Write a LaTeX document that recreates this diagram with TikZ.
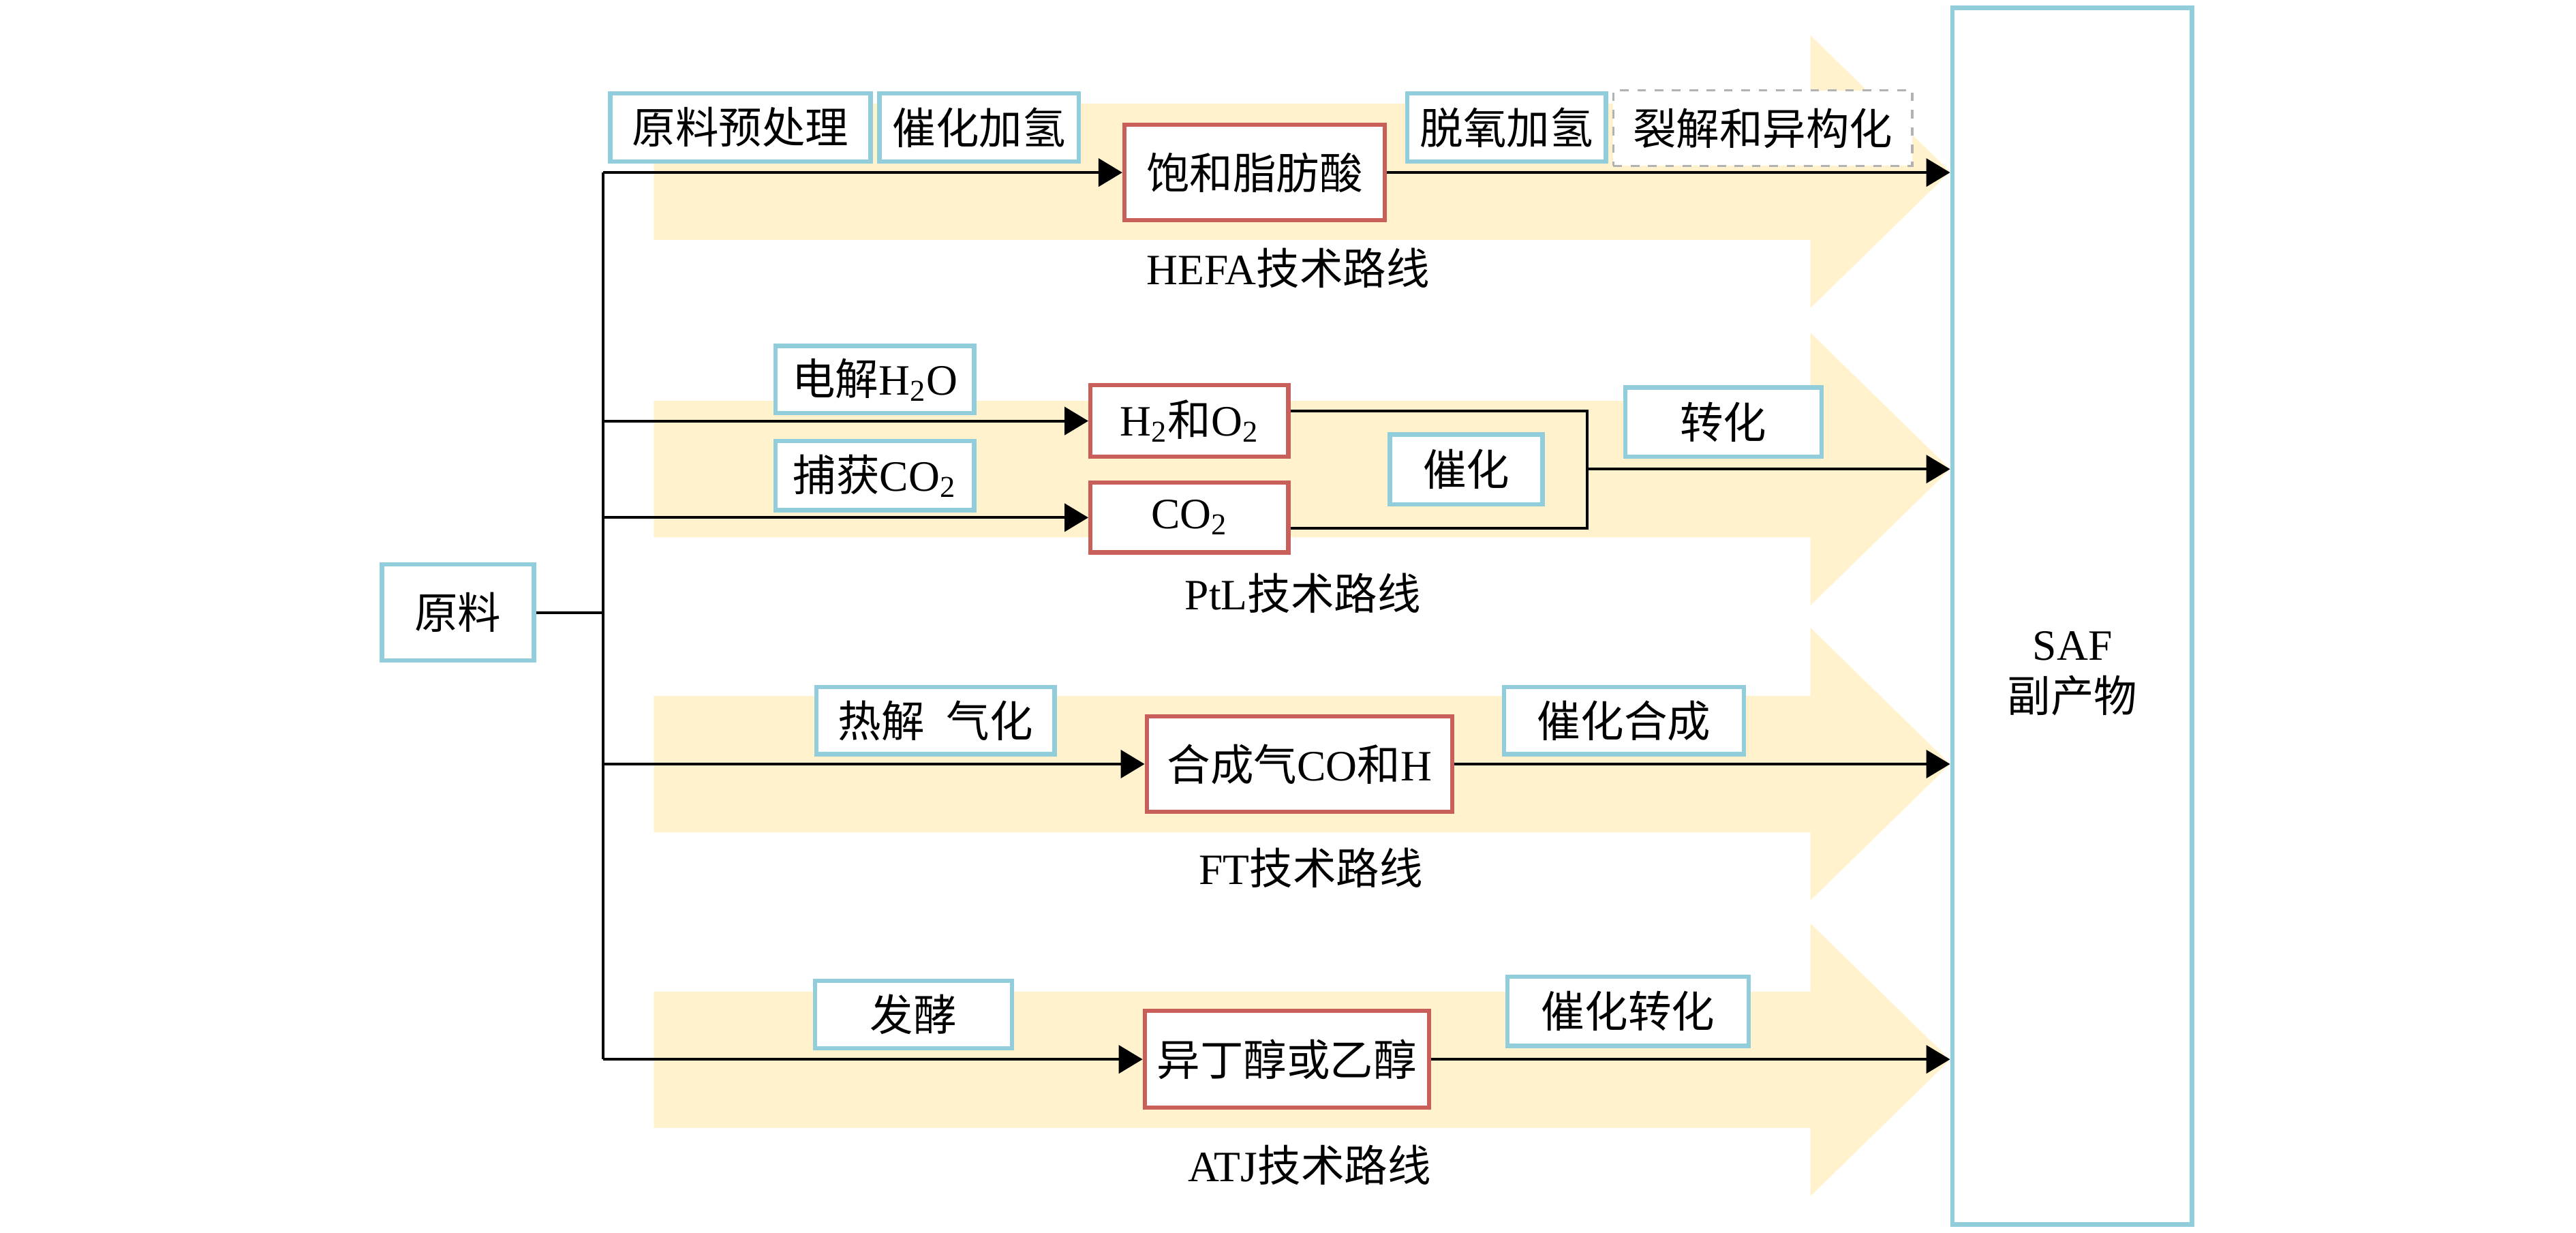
\documentclass[tikz,border=0pt]{standalone}
\usepackage{fontspec}
\setmainfont{Liberation Serif}
\newfontfamily\cjk{Noto Sans CJK SC}
\usetikzlibrary{arrows.meta}
\definecolor{fatfill}{RGB}{255,242,204}
\definecolor{boxblue}{RGB}{146,205,220}
\definecolor{boxred}{RGB}{200,95,90}
\newcommand{\zh}[1]{{\cjk #1}}

\begin{document}
\begin{tikzpicture}[x=0.02cm,y=-0.02cm,
  every node/.style={font=\fontsize{15}{18}\selectfont},
  bluebox/.style={draw=boxblue,line width=1.5pt,fill=white,inner sep=0pt},
  redbox/.style={draw=boxred,line width=1.5pt,fill=white,inner sep=0pt},
  dashbox/.style={draw=gray!60,dashed,line width=0.8pt,fill=white,inner sep=0pt},
  line/.style={line width=1pt},
  arr/.style={line width=1pt,-{Triangle[length=2.9mm,width=3.4mm]}}]
  \useasboundingbox (0,0) rectangle (1568,750);
  \foreach \c in {104.5,285.5,465,645}
    \fill[fatfill] (398,\c-41.5) -- (1102,\c-41.5) -- (1102,\c-83) -- (1187,\c)
      -- (1102,\c+83) -- (1102,\c+41.5) -- (398,\c+41.5) -- cycle;

  \node[bluebox,minimum width=2.92cm,minimum height=14.81cm] (saf) at (1261.3,375) {};
  \node[align=center] (saftext) at (1261.5,410) {SAF\\\zh{副产物}};
  \node[bluebox,minimum width=1.85cm,minimum height=1.17cm] (raw) at (278.7,372.8) {\zh{原料}};
  \coordinate (split) at (367,372.8);

  \node[bluebox,minimum width=3.17cm,minimum height=0.83cm] (pre) at (450.7,77.5) {\zh{原料预处理}};
  \node[bluebox,minimum width=2.43cm,minimum height=0.83cm] (hydro) at (596,77.5) {\zh{催化加氢}};
  \node[redbox,minimum width=3.17cm,minimum height=1.16cm] (fa) at (763.7,105) {\zh{饱和脂肪酸}};
  \node[bluebox,minimum width=2.42cm,minimum height=0.83cm] (deox) at (917,77.6) {\zh{脱氧加氢}};
  \node[dashbox,minimum width=3.64cm,minimum height=0.92cm] (crack) at (1073,78) {\zh{裂解和异构化}};
  \node (hefa) at (784,163) {HEFA\zh{技术路线}};

  \node[bluebox,minimum width=2.42cm,minimum height=0.82cm] (elec) at (532.5,231) {\zh{电解}H\textsubscript{2}O};
  \node[bluebox,minimum width=2.42cm,minimum height=0.84cm] (capt) at (532.5,289.5) {\zh{捕获}CO\textsubscript{2}};
  \node[redbox,minimum width=2.41cm,minimum height=0.87cm] (h2) at (724,256.2) {H\textsubscript{2}\zh{和}O\textsubscript{2}};
  \node[redbox,minimum width=2.41cm,minimum height=0.85cm] (co2) at (724,315) {CO\textsubscript{2}};
  \node[bluebox,minimum width=1.86cm,minimum height=0.85cm] (catal) at (892.5,285.7) {\zh{催化}};
  \node[bluebox,minimum width=2.39cm,minimum height=0.84cm] (conv) at (1049,256.8) {\zh{转化}};
  \node (ptl) at (793,361) {PtL\zh{技术路线}};
  \coordinate (mtop) at (966,250);
  \coordinate (mbot) at (966,321.5);
  \coordinate (merge) at (966,285.5);

  \node[bluebox,minimum width=2.9cm,minimum height=0.82cm] (pyro) at (569.5,438.5) {\zh{热解\hspace{0.5em}气化}};
  \node[redbox,minimum width=3.72cm,minimum height=1.16cm] (syn) at (791,465) {\zh{合成气}CO\zh{和}H};
  \node[bluebox,minimum width=2.92cm,minimum height=0.82cm] (csyn) at (988.5,438.5) {\zh{催化合成}};
  \node (ft) at (798,528) {FT\zh{技术路线}};

  \node[bluebox,minimum width=2.4cm,minimum height=0.82cm] (ferm) at (556,617.5) {\zh{发酵}};
  \node[redbox,minimum width=3.46cm,minimum height=1.18cm] (alc) at (783.3,644.7) {\zh{异丁醇或乙醇}};
  \node[bluebox,minimum width=2.94cm,minimum height=0.84cm] (cconv) at (991,615.5) {\zh{催化转化}};
  \node (atj) at (797,709) {ATJ\zh{技术路线}};

  \draw[line] (raw) -- (split);
  \draw[line] (split |- fa) -- (split |- alc);
  \draw[arr] (split |- fa) -- (fa);
  \draw[arr] (fa) -- (fa -| saf.west);
  \draw[arr] (split |- h2) -- (h2);
  \draw[arr] (split |- co2) -- (co2);
  \draw[line] (h2.east |- mtop) -- (mtop) -- (mbot) -- (co2.east |- mbot);
  \draw[arr] (merge) -- (merge -| saf.west);
  \draw[arr] (split |- syn) -- (syn);
  \draw[arr] (syn) -- (syn -| saf.west);
  \draw[arr] (split |- alc) -- (alc);
  \draw[arr] (alc) -- (alc -| saf.west);
\end{tikzpicture}
\end{document}
